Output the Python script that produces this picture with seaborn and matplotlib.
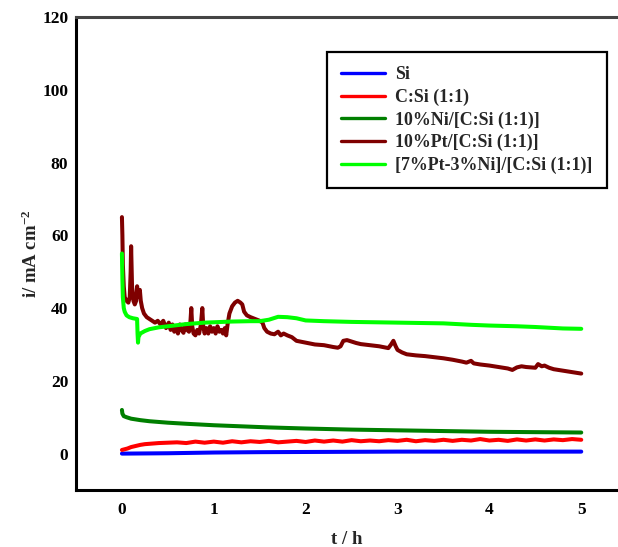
import numpy as np
import pandas as pd
import matplotlib
matplotlib.use("Agg")
import matplotlib.pyplot as plt
import seaborn as sns

sns.set_theme(style="white")
plt.rcParams["font.family"] = ["Liberation Serif", "DejaVu Serif"]
plt.rcParams["font.weight"] = "bold"
plt.rcParams["mathtext.fontset"] = "custom"
plt.rcParams["mathtext.rm"] = "Liberation Serif:bold"
plt.rcParams["mathtext.bf"] = "Liberation Serif:bold"
plt.rcParams["mathtext.default"] = "rm"

# --- chronoamperometry data: current density (mA cm^-2) vs time (h) ---
labels = ["Si", "C:Si (1:1)", "10%Ni/[C:Si (1:1)]", "10%Pt/[C:Si (1:1)]",
          "[7%Pt-3%Ni]/[C:Si (1:1)]"]
colors = ["#0000ff", "#ff0000", "#007f00", "#7f0000", "#00ff00"]

t_si = [0.0, 0.5, 1.0, 1.5, 2.0, 2.5, 3.0, 4.0, 5.0]
i_si = [0.0, 0.1, 0.3, 0.4, 0.45, 0.5, 0.55, 0.55, 0.55]

t_csi = [0.0, 0.03, 0.06, 0.1, 0.15, 0.2, 0.25, 0.3, 0.4, 0.5, 0.6, 0.7, 0.8,
         0.9, 1.0, 1.1, 1.2, 1.3, 1.4, 1.5, 1.6, 1.7, 1.8, 1.9, 2.0, 2.1, 2.2,
         2.3, 2.4, 2.5, 2.6, 2.7, 2.8, 2.9, 3.0, 3.1, 3.2, 3.3, 3.4, 3.5, 3.6,
         3.7, 3.8, 3.9, 4.0, 4.1, 4.2, 4.3, 4.4, 4.5, 4.6, 4.7, 4.8, 4.9, 5.0]
i_csi = [1.0, 1.2, 1.4, 1.8, 2.1, 2.4, 2.6, 2.7, 2.9, 3.0, 3.1, 2.9, 3.3,
         3.0, 3.3, 3.0, 3.4, 3.1, 3.4, 3.2, 3.5, 3.1, 3.3, 3.5, 3.2, 3.6, 3.3,
         3.6, 3.3, 3.7, 3.4, 3.6, 3.4, 3.7, 3.5, 3.8, 3.4, 3.7, 3.5, 3.8, 3.5,
         3.8, 3.6, 4.0, 3.6, 3.8, 3.5, 3.9, 3.6, 3.9, 3.6, 3.9, 3.7, 4.0, 3.8]

t_ni = [0.0, 0.005, 0.02, 0.05, 0.1, 0.2, 0.3, 0.5, 0.7, 1.0, 1.3, 1.6, 2.0,
        2.5, 3.0, 3.5, 4.0, 4.5, 5.0]
i_ni = [12.0, 11.0, 10.3, 10.0, 9.6, 9.2, 8.9, 8.5, 8.2, 7.8, 7.5, 7.2, 6.9,
        6.6, 6.4, 6.2, 6.0, 5.9, 5.8]

t_pt = [0.0, 0.005, 0.01, 0.02, 0.03, 0.05, 0.07, 0.085, 0.095, 0.10, 0.105,
        0.11, 0.125, 0.14, 0.155, 0.165, 0.175, 0.185, 0.195, 0.205, 0.22,
        0.24, 0.27, 0.30, 0.33, 0.36, 0.39, 0.42, 0.45, 0.48, 0.51, 0.53,
        0.55, 0.57, 0.59, 0.61, 0.63, 0.65, 0.67, 0.69, 0.71, 0.73, 0.745,
        0.755, 0.765, 0.78, 0.80, 0.82, 0.84, 0.86, 0.875, 0.885, 0.90, 0.92,
        0.94, 0.96, 0.98, 1.00, 1.02, 1.04, 1.06, 1.08, 1.10, 1.12, 1.135,
        1.15, 1.17, 1.20, 1.23, 1.26, 1.29, 1.31, 1.33, 1.36, 1.40, 1.45,
        1.50, 1.53, 1.55, 1.58, 1.62, 1.66, 1.70, 1.73, 1.76, 1.80, 1.85,
        1.90, 2.0, 2.1, 2.2, 2.3, 2.35, 2.38, 2.41, 2.45, 2.5, 2.55, 2.6,
        2.7, 2.8, 2.9, 2.93, 2.955, 2.98, 3.0, 3.05, 3.1, 3.2, 3.3, 3.4, 3.5,
        3.6, 3.7, 3.75, 3.8, 3.83, 3.9, 4.0, 4.1, 4.2, 4.25, 4.3, 4.35, 4.4,
        4.5, 4.53, 4.57, 4.6, 4.65, 4.7, 4.8, 4.9, 5.0]
i_pt = [65.0, 60.0, 52.0, 46.0, 43.0, 42.0, 41.5, 43.0, 50.0, 57.0, 52.0,
        46.0, 42.0, 41.0, 42.0, 46.0, 43.0, 44.0, 45.0, 42.0, 40.0,
        38.5, 37.5, 37.0, 36.5, 36.0, 36.5, 35.5, 36.5, 34.5, 36.0, 34.0,
        35.5, 33.5, 35.0, 33.0, 35.5, 34.0, 33.2, 35.5, 34.0, 33.5, 36.0,
        40.0, 35.0, 33.0, 32.5, 34.0, 33.0, 35.5, 40.0, 35.0, 33.0, 34.5,
        33.0, 35.0, 33.5, 34.5, 33.0, 35.0, 33.5, 34.0, 33.0, 34.5, 32.5,
        35.5, 38.5, 40.5, 41.5, 42.0, 41.5, 41.0, 39.0, 38.0, 37.5, 37.0,
        36.5, 36.0, 34.5, 33.5, 33.0, 32.8, 33.5, 32.5, 33.0, 32.5, 32.0,
        31.0, 30.5, 30.0, 29.8, 29.3, 29.1, 29.5, 31.0, 31.2, 30.8, 30.4, 30.1,
        29.8, 29.5, 29.0, 30.0, 31.0, 29.5, 28.5, 27.8, 27.3, 27.0, 26.8, 26.5,
        26.2, 25.8, 25.3, 25.0, 25.5, 24.8, 24.5, 24.2, 23.8, 23.4, 23.0, 23.7,
        24.0, 23.8, 23.6, 24.6, 24.0, 24.2, 23.6, 23.2, 22.8, 22.4, 22.0]

t_ptni = [0.0, 0.005, 0.01, 0.02, 0.03, 0.05, 0.08, 0.12, 0.165, 0.17, 0.175,
          0.18, 0.2, 0.25, 0.3, 0.4, 0.5, 0.6, 0.7, 0.8, 0.9, 1.0, 1.2, 1.4,
          1.5, 1.6, 1.7, 1.8, 1.9, 2.0, 2.2, 2.5, 3.0, 3.5, 3.8, 4.0, 4.3,
          4.5, 4.8, 5.0]
i_ptni = [55.0, 48.0, 43.0, 40.0, 39.0, 38.0, 37.5, 37.2, 37.0, 33.0, 30.5,
          32.0, 33.0, 33.7, 34.2, 34.7, 35.0, 35.3, 35.6, 35.8, 36.0, 36.1,
          36.3, 36.4, 36.4, 36.8, 37.6, 37.5, 37.2, 36.6, 36.4, 36.2, 36.0,
          35.8, 35.4, 35.2, 35.0, 34.8, 34.4, 34.3]

xticks = [0, 1, 2, 3, 4, 5]
yticks = [0, 20, 40, 60, 80, 100, 120]

series = [(t_si, i_si), (t_csi, i_csi), (t_ni, i_ni), (t_pt, i_pt), (t_ptni, i_ptni)]
frames = []
for name, (t, i) in zip(labels, series):
    frames.append(pd.DataFrame({"t": t, "i": i, "sample": name}))
df = pd.concat(frames, ignore_index=True)

fig = plt.figure(figsize=(6.18, 5.47), dpi=100)
ax = fig.add_axes([76 / 618, 1 - 490 / 547, 1 - 76 / 618, (490 - 17) / 547])

sns.lineplot(data=df, x="t", y="i", hue="sample", hue_order=labels,
             palette=dict(zip(labels, colors)), estimator=None, sort=False,
             linewidth=2.9, ax=ax)

ax.set_xlim(-0.5, 5.4)
ax.set_ylim(-10, 120)
ax.set_xticks(xticks)
ax.set_yticks(yticks)
ax.tick_params(axis="both", direction="in", length=4.5, width=1.2,
               labelsize=12.5, colors="black")
ax.tick_params(axis="y", pad=5.5)
ax.tick_params(axis="x", pad=8.5)
for lab in ax.get_xticklabels() + ax.get_yticklabels():
    lab.set_fontweight("bold")

for side in ["left", "bottom", "top"]:
    ax.spines[side].set_visible(True)
    ax.spines[side].set_color("black")
    ax.spines[side].set_linewidth(2.2)
ax.spines["right"].set_visible(False)
ax.spines["top"].set_color("#444444")

ax.set_xlabel("t / h", fontsize=13.5, fontweight="bold")
ax.set_ylabel("i/ mA cm$^{-2}$", fontsize=13.5, fontweight="bold")
ax.xaxis.set_label_coords(0.5, (490 - 540) / 473, transform=ax.transAxes)
ax.yaxis.set_label_coords((31 - 76) / 542, 0.5, transform=ax.transAxes)
ax.xaxis.label.set_va("center")
ax.yaxis.label.set_va("center")

leg = ax.legend(loc="upper left", bbox_to_anchor=((327 - 76) / 542, (490 - 52) / 473),
                borderaxespad=0, frameon=True, fancybox=False, framealpha=1,
                edgecolor="black", handlelength=2.45,
                labelspacing=0.3, borderpad=0.8, handletextpad=0.56,
                prop={"weight": "bold", "size": 12.9})
leg.get_frame().set_linewidth(1.6)
for h in leg.get_lines():
    h.set_linewidth(2.4)

fig.savefig("out.png", dpi=100)
